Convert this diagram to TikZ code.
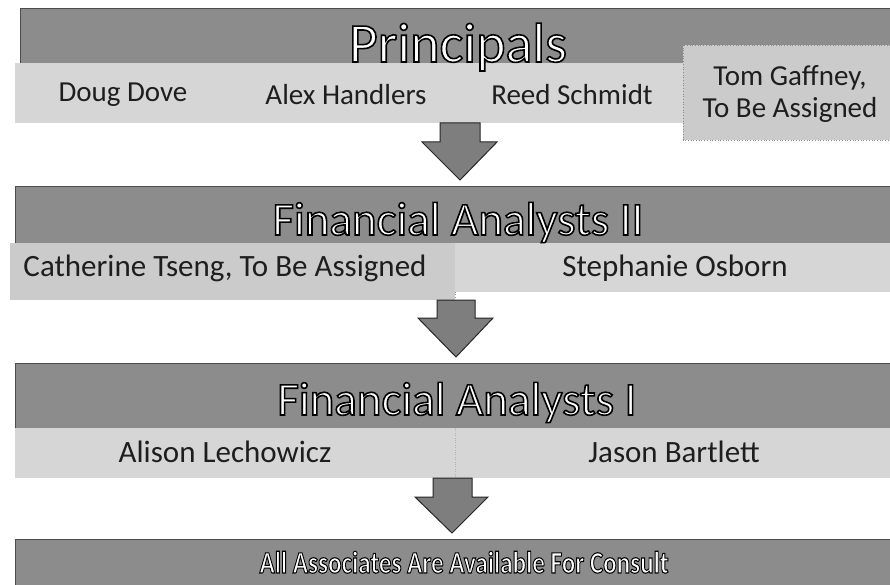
\documentclass[tikz,border=0pt]{standalone}
\usepackage{fontspec}
\setmainfont{Carlito}
\definecolor{bandgray}{HTML}{8C8C8C}
\definecolor{rowgray}{HTML}{D6D6D6}
\definecolor{boxgray}{HTML}{CBCBCB}
\definecolor{arrowgray}{HTML}{7E7E7E}
\definecolor{namecol}{HTML}{1E1E1E}
\newcommand{\outlined}[2][1.6]{\textcolor{white}{\special{pdf:literal direct 2 Tr #1 w 0 G}#2\special{pdf:literal direct 0 Tr}}}
\begin{document}
\begin{tikzpicture}[x=1pt,y=-1pt,
  bandbox/.style={fill=bandgray,draw=black!70,line width=0.8pt},
  rowbox/.style={fill=rowgray,draw=none},
  tbox/.style={fill=boxgray,draw=black!45,dotted,line width=0.7pt},
  bigttl/.style={font=\fontsize{56}{56}\selectfont,inner sep=0pt,anchor=base},
  ttltext/.style={font=\fontsize{47}{47}\selectfont,inner sep=0pt,anchor=base},
  subttltext/.style={font=\bfseries\fontsize{31}{31}\selectfont,xscale=0.81,inner sep=0pt,anchor=base},
  nmtext/.style={font=\fontsize{29}{32}\selectfont,text=namecol,align=center,inner sep=0pt},
  nmtextb/.style={font=\fontsize{31}{34}\selectfont,text=namecol,align=center,inner sep=0pt},
  blockarrow/.style={fill=arrowgray,draw=black!85,line width=1pt,line join=miter}]
\useasboundingbox (0,0) rectangle (890,585);
\fill[white] (0,0) rectangle (890,585);
% Principals
\draw[bandbox] (20,8) rectangle (890,63);
\fill[rowbox] (15,63) rectangle (683,123);
\draw[tbox] (683,45) rectangle (890,140);
\node[bigttl] (tp) at (458,62) {\outlined{Principals}};
\node[nmtext] (n1) at (123,95) {Doug Dove};
\node[nmtext] (n2) at (346,95) {Alex Handlers};
\node[nmtext] (n3) at (572,95) {Reed Schmidt};
\node[nmtext] (n4) at (790,94) {Tom Gaffney,\\To Be Assigned};
% arrow 1
\draw[blockarrow] (440,123) -- (480,123) -- (480,142) -- (497,142) -- (460,180) -- (422,142) -- (440,142) -- cycle;
% FA II
\draw[bandbox] (15,186) rectangle (890,243);
\fill[boxgray] (10,243) rectangle (455,300);
\draw[black!45,dotted,line width=0.7pt] (455,243) -- (455,300);
\fill[rowbox] (455,243) rectangle (890,292);
\node[ttltext] (t2) at (458,235) {\outlined{Financial Analysts II}};
\node[nmtextb] (n5) at (225,268) {Catherine Tseng, To Be Assigned};
\node[nmtextb] (n6) at (675,268) {Stephanie Osborn};
% arrow 2
\draw[blockarrow] (437,300) -- (475,300) -- (475,318) -- (493,318) -- (456,357) -- (418,318) -- (437,318) -- cycle;
% FA I
\draw[bandbox] (15,363) rectangle (890,428);
\fill[rowbox] (15,428) rectangle (890,478);
\draw[black!30,dotted] (455,428) -- (455,478);
\node[ttltext] (t3) at (457,415) {\outlined{Financial Analysts I}};
\node[nmtextb] (n7) at (225,452) {Alison Lechowicz};
\node[nmtextb] (n8) at (674,452) {Jason Bartlett};
% arrow 3
\draw[blockarrow] (433,478) -- (472,478) -- (472,497) -- (488,497) -- (452,533) -- (415,497) -- (433,497) -- cycle;
% bottom
\draw[bandbox] (15,539) rectangle (890,590);
\node[subttltext] (t4) at (464,573) {\outlined[1.1]{All Associates Are Available For Consult}};
\end{tikzpicture}
\end{document}
